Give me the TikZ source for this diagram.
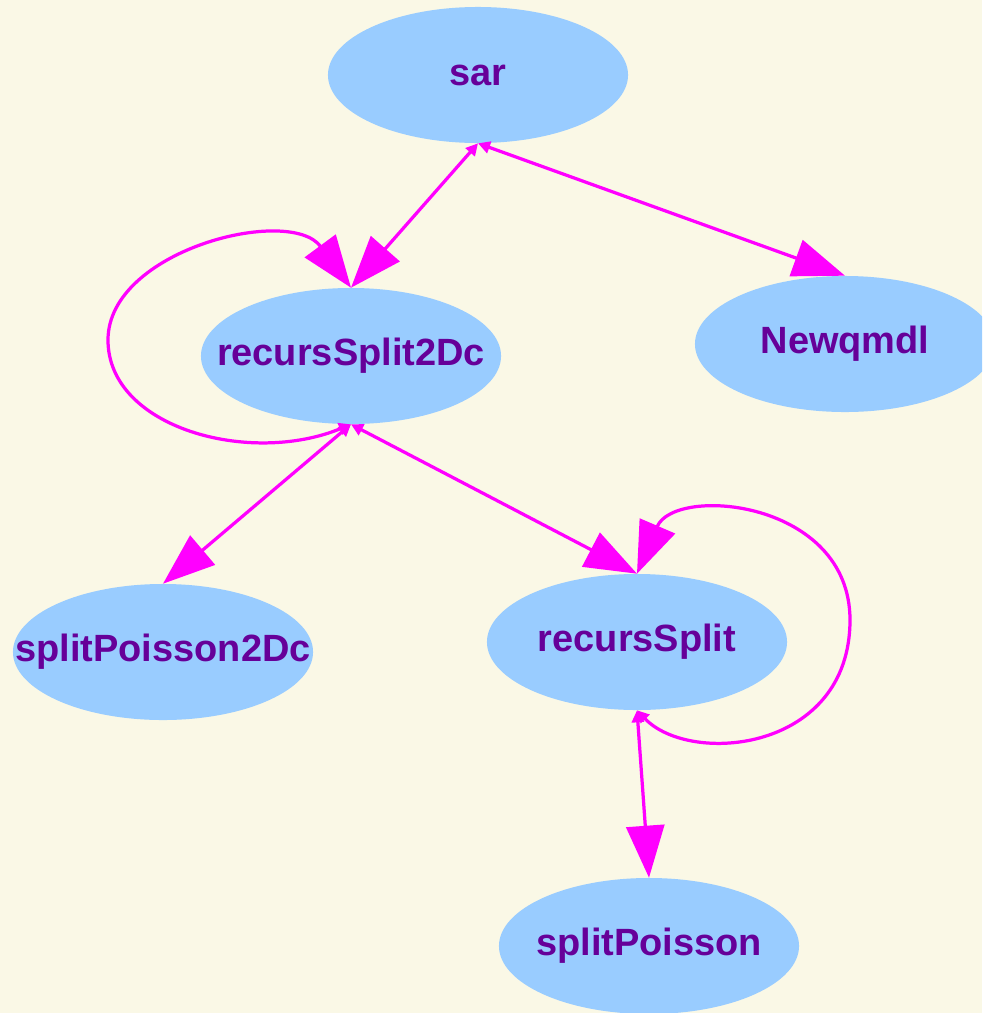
\documentclass[tikz,border=0pt]{standalone}
\usepackage{fontspec}
\setmainfont{Liberation Sans}
\usetikzlibrary{shapes.geometric,arrows.meta}
\definecolor{bgcream}{RGB}{250,248,230}
\definecolor{nodeblue}{RGB}{153,204,255}
\definecolor{labelpurple}{RGB}{102,0,153}
\definecolor{linkmagenta}{RGB}{255,0,255}
\tikzset{
  fnode/.style={ellipse, fill=nodeblue, inner sep=0pt, minimum width=7.5cm, minimum height=3.4cm,
    text=labelpurple, font=\fontsize{27}{32}\selectfont\bfseries},
  link/.style={draw=linkmagenta, line width=2.3pt,
    arrows={Triangle[length=0.3cm,width=0.3cm]-Triangle[length=1.3cm,width=0.95cm]}}
}
\begin{document}
\begin{tikzpicture}[x=0.025cm, y=-0.025cm]
    % fundo
    \fill[bgcream] (0,0) rectangle (982,1013);
    \clip (0,0) rectangle (982,1013);
    % funções do grafo de chamadas
    \node[fnode] (sar) at (478,75) {\makebox[0pt]{sar}};
    \node[fnode] (rsplitdc) at (351,356) {\makebox[0pt]{recursSplit2Dc}};
    \node[fnode] (newqmdl) at (845,344) {\makebox[0pt]{Newqmdl}};
    \node[fnode] (spoisdc) at (163,652) {\makebox[0pt]{splitPoisson2Dc}};
    \node[fnode] (rsplit) at (637,642) {\makebox[0pt]{recursSplit}};
    \node[fnode] (spois) at (649,946) {\makebox[0pt]{splitPoisson}};
    % chamadas diretas
    \draw[link] (sar.south) -- (rsplitdc.north);
    \draw[link] (sar.south) -- (newqmdl.north);
    \draw[link] (rsplitdc.south) -- (spoisdc.north);
    \draw[link] (rsplitdc.south) -- (rsplit.north);
    \draw[link] (rsplit.south) -- (spois.north);
    % chamadas recursivas
    \draw[link] (rsplitdc.south) .. controls (250,466) and (108,428) .. (108,340)
      .. controls (108,250) and (290,205) .. (rsplitdc.north);
    \draw[link] (rsplit.south) .. controls (690,766) and (850,752) .. (850,620)
      .. controls (850,500) and (675,485) .. (rsplit.north);
\end{tikzpicture}
\end{document}
